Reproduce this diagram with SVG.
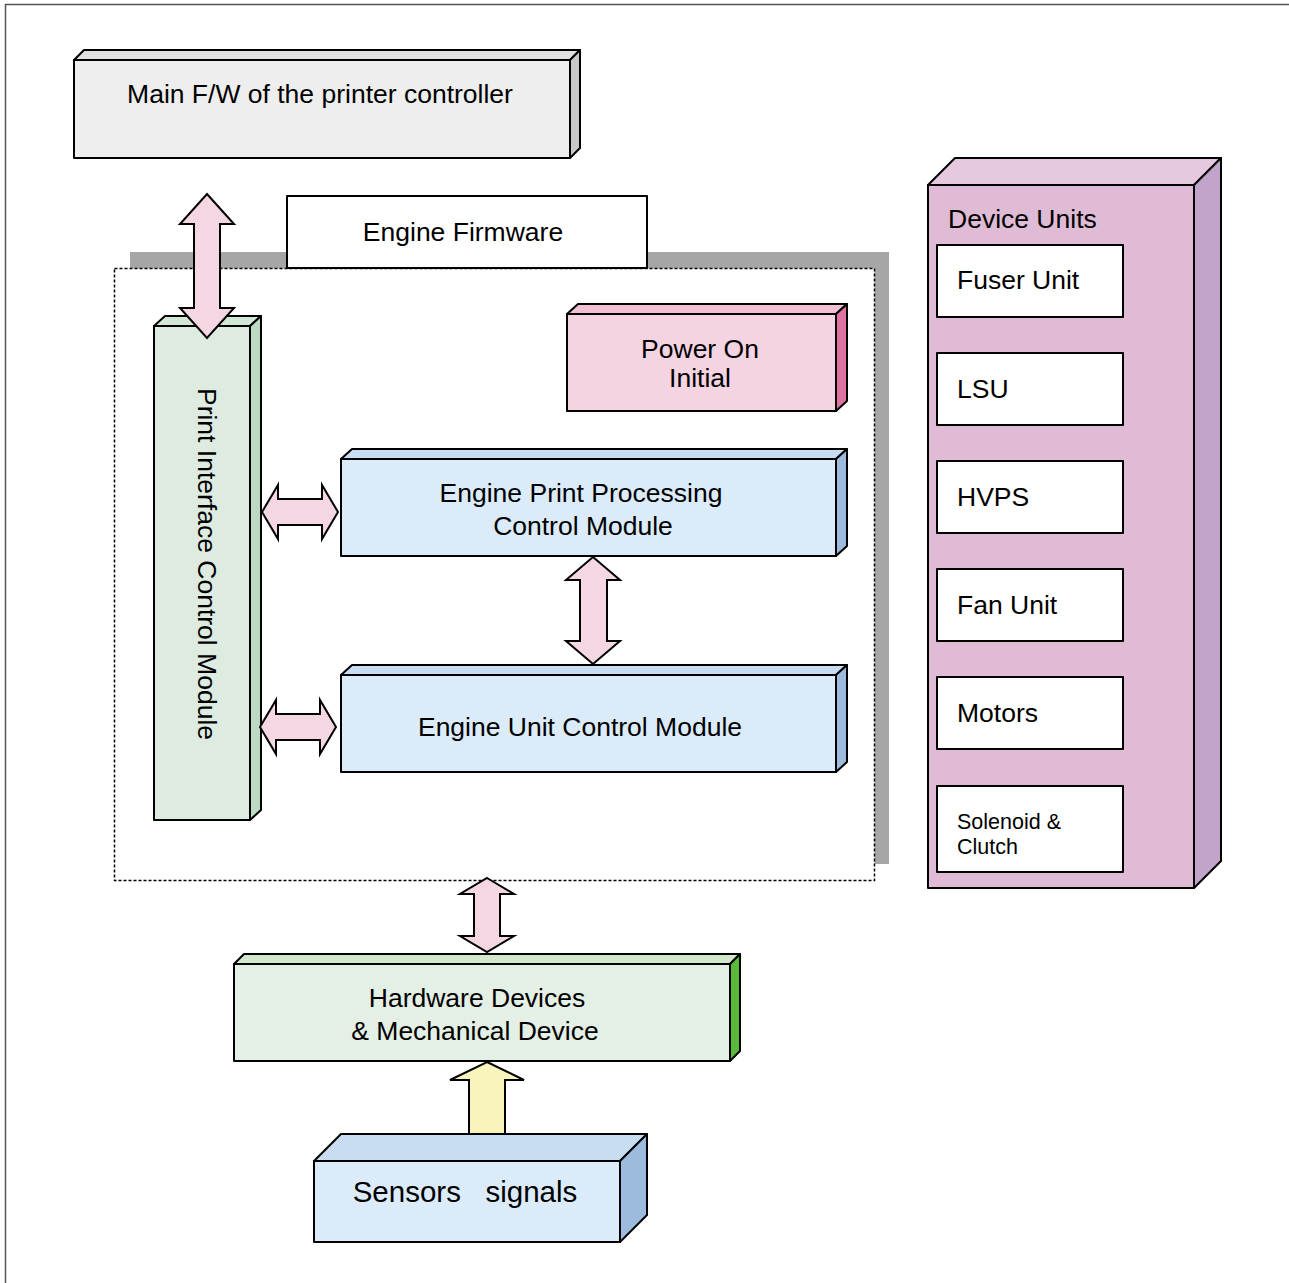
<svg xmlns="http://www.w3.org/2000/svg" width="1289" height="1283" viewBox="0 0 1289 1283">
<style>
text{font-family:"Liberation Sans",Arial,sans-serif;fill:#000;}
.t24{font-size:26.5px;}
.mid{text-anchor:middle;}
.ln{stroke:#000;stroke-width:2;stroke-linejoin:round;}
.arrow{fill:#f5d6e3;stroke:#000;stroke-width:2;stroke-linejoin:miter;}
</style>
<rect width="1289" height="1283" fill="#fff"/>
<path d="M5.5,1283 V4.5 H1289" fill="none" stroke="#555" stroke-width="1.5"/>

<g id="engine-firmware-frame">
<rect x="130" y="252" width="759" height="612" fill="#a6a6a6"/>
<rect x="114.5" y="268.5" width="760" height="612" fill="#fff" stroke="#000" stroke-width="1.5" stroke-dasharray="3,2"/>
</g>

<g id="engine-firmware">
<rect x="287" y="196" width="360" height="72" fill="#fff" class="ln"/>
<text x="463" y="241" class="t24 mid">Engine Firmware</text>
</g>

<g id="main-fw">
<polygon points="74,60 84,50 580,50 570,60" fill="#e0e0e0" class="ln"/>
<polygon points="570,60 580,50 580,148 570,158" fill="#c8c8c8" class="ln"/>
<rect x="74" y="60" width="496" height="98" fill="#eeeeee" class="ln"/>
<text x="320" y="103" class="t24 mid">Main F/W of the printer controller</text>
</g>

<g id="print-interface">
<polygon points="154,326 165,316 261,316 250,326" fill="#d3e7d6" class="ln"/>
<polygon points="250,326 261,316 261,810 250,820" fill="#bcdac2" class="ln"/>
<rect x="154" y="326" width="96" height="494" fill="#ddebe0" class="ln"/>
<text transform="translate(198,564) rotate(90)" class="t24 mid">Print Interface Control Module</text>
</g>

<g id="power-on">
<polygon points="567,314 578,304 847,304 836,314" fill="#f2c0d4" class="ln"/>
<polygon points="836,314 847,304 847,401 836,411" fill="#e073a2" class="ln"/>
<rect x="567" y="314" width="269" height="97" fill="#f4d3e2" class="ln"/>
<text x="700" y="358" class="t24 mid">Power On</text>
<text x="700" y="387" class="t24 mid">Initial</text>
</g>

<g id="engine-print-processing">
<polygon points="341,459 352,449 847,449 836,459" fill="#c8ddf2" class="ln"/>
<polygon points="836,459 847,449 847,546 836,556" fill="#9dbbdd" class="ln"/>
<rect x="341" y="459" width="495" height="97" fill="#dbebf9" class="ln"/>
<text x="581" y="502" class="t24 mid">Engine Print Processing</text>
<text x="583" y="535" class="t24 mid">Control Module</text>
</g>

<g id="engine-unit-control">
<polygon points="341,675 352,665 847,665 836,675" fill="#c8ddf2" class="ln"/>
<polygon points="836,675 847,665 847,762 836,772" fill="#9dbbdd" class="ln"/>
<rect x="341" y="675" width="495" height="97" fill="#dbebf9" class="ln"/>
<text x="580" y="736" class="t24 mid">Engine Unit Control Module</text>
</g>

<g id="hardware-devices">
<polygon points="234,964 244,954 740,954 730,964" fill="#d2e7cb" class="ln"/>
<polygon points="730,964 740,954 740,1051 730,1061" fill="#5cb83a" class="ln"/>
<rect x="234" y="964" width="496" height="97" fill="#e4efe5" class="ln"/>
<text x="477" y="1007" class="t24 mid">Hardware Devices</text>
<text x="475" y="1040" class="t24 mid">&amp; Mechanical Device</text>
</g>

<g id="sensors-signals">
<polygon points="314,1161 341,1134 647,1134 620,1161" fill="#c8ddf2" class="ln"/>
<polygon points="620,1161 647,1134 647,1215 620,1242" fill="#9dbbdd" class="ln"/>
<rect x="314" y="1161" width="306" height="81" fill="#dbebf9" class="ln"/>
<text x="465" y="1202" style="font-size:29.5px" class="mid" xml:space="preserve">Sensors   signals</text>
</g>

<g id="device-units">
<polygon points="928,185 955,158 1221,158 1194,185" fill="#e6c8df" class="ln"/>
<polygon points="1194,185 1221,158 1221,861 1194,888" fill="#c2a3c9" class="ln"/>
<rect x="928" y="185" width="266" height="703" fill="#dfbbd6" class="ln"/>
<text x="948" y="228" class="t24">Device Units</text>
</g>
<g id="fuser-unit"><rect x="937" y="245" width="186" height="72" fill="#fff" class="ln"/><text x="957" y="289" class="t24">Fuser Unit</text></g>
<g id="lsu"><rect x="937" y="353" width="186" height="72" fill="#fff" class="ln"/><text x="957" y="398" class="t24">LSU</text></g>
<g id="hvps"><rect x="937" y="461" width="186" height="72" fill="#fff" class="ln"/><text x="957" y="506" class="t24">HVPS</text></g>
<g id="fan-unit"><rect x="937" y="569" width="186" height="72" fill="#fff" class="ln"/><text x="957" y="614" class="t24">Fan Unit</text></g>
<g id="motors"><rect x="937" y="677" width="186" height="72" fill="#fff" class="ln"/><text x="957" y="722" class="t24">Motors</text></g>
<g id="solenoid-clutch"><rect x="937" y="786" width="186" height="86" fill="#fff" class="ln"/><text x="957" y="829" style="font-size:21.5px">Solenoid &amp;</text><text x="957" y="854" style="font-size:21.5px">Clutch</text></g>

<g id="connectors">
<polygon class="arrow" points="207,194 234,224 220,224 220,308 234,308 207,338 180,308 194,308 194,224 180,224"/>
<polygon class="arrow" points="262,512 278,485 278,499 322,499 322,485 338,512 322,539 322,525 278,525 278,539"/>
<polygon class="arrow" points="260,727 276,700 276,714 320,714 320,700 336,727 320,754 320,740 276,740 276,754"/>
<polygon class="arrow" points="593,557 620,580 607,580 607,641 620,641 593,664 566,641 580,641 580,580 566,580"/>
<polygon class="arrow" points="487,878 514,894 500,894 500,936 514,936 487,952 460,936 474,936 474,894 460,894"/>
<polygon points="487,1062 524,1080 505,1080 505,1134 469,1134 469,1080 450,1080" fill="#f9f3bc" stroke="#000" stroke-width="2"/>
</g>
</svg>
